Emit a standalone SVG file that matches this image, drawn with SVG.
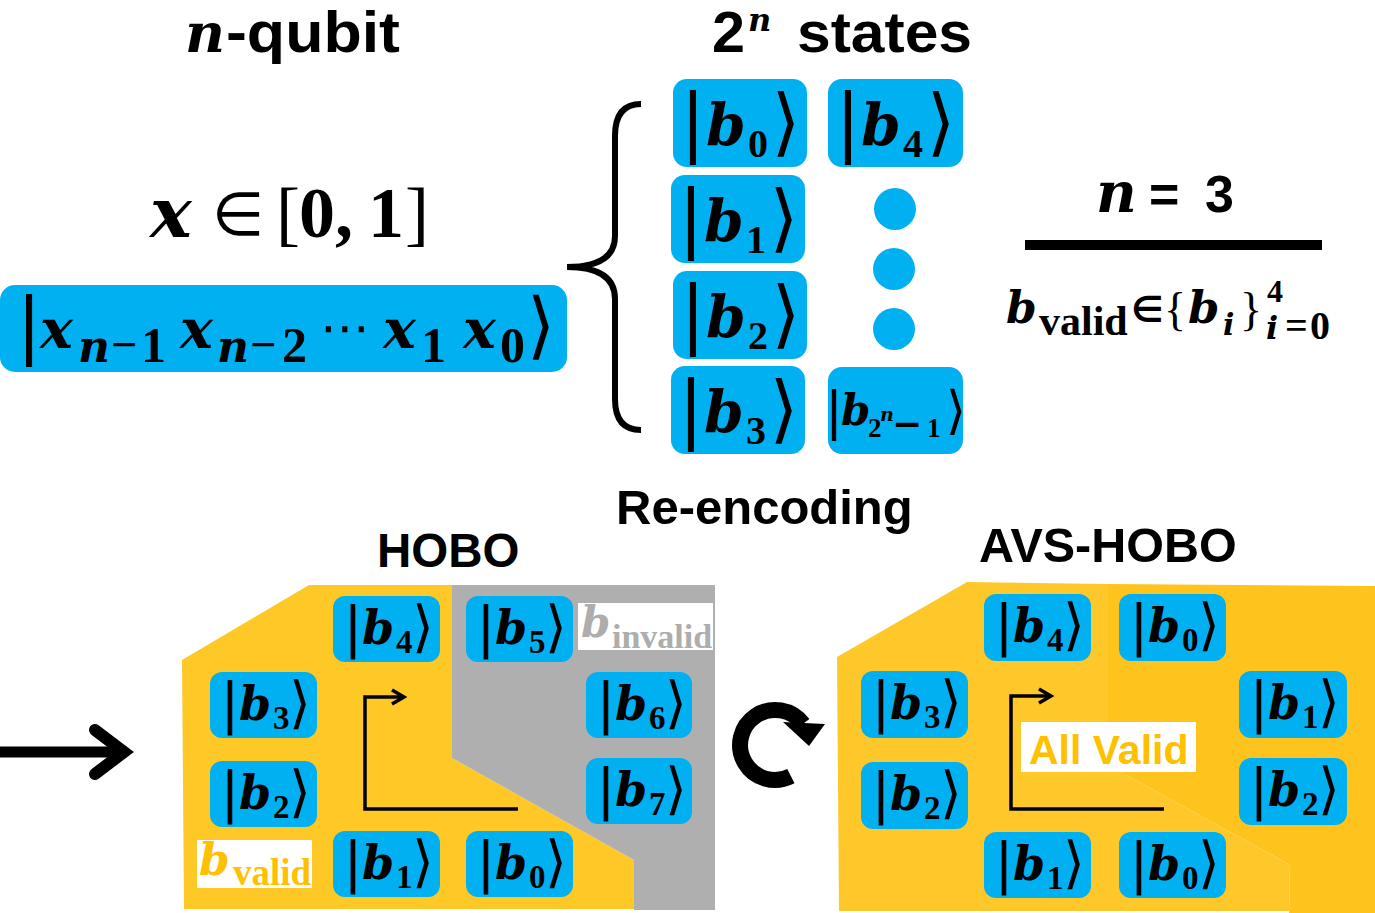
<svg xmlns="http://www.w3.org/2000/svg" width="1375" height="913" viewBox="0 0 1375 913">
  <defs>
    <style>
      .box { fill: #00B0F0; }
      .kb { font-family: "DejaVu Sans", sans-serif; }
      .mi { font-family: "DejaVu Serif", serif; font-weight: bold; font-style: italic; }
      .mn { font-family: "Liberation Serif", serif; font-weight: bold; font-style: normal; }
      .mr { font-family: "Liberation Serif", serif; font-weight: normal; font-style: normal; }
      .hd { font-family: "Liberation Sans", Arial, sans-serif; font-weight: bold; }
      .ln { fill: none; stroke: #000; }
      .ket { fill: #000; }
      .bar56 { font-size: 56px; text-anchor: middle; }
      .b46 { font-size: 46px; }
      .s33 { font-size: 33px; }
      .bar74 { font-size: 74px; text-anchor: middle; }
      .b57 { font-size: 57px; }
      .s40 { font-size: 40px; }
    </style>
    <marker id="chev" markerUnits="userSpaceOnUse" markerWidth="18" markerHeight="18" viewBox="0 0 18 18" refX="15" refY="9" orient="auto">
      <path d="M3,2 L15,9 L3,16" fill="none" stroke="#000" stroke-width="3.5"/>
    </marker>
  </defs>

  <rect width="1375" height="913" fill="#fff"/>

  <!-- headings -->
  <g id="title-qubit">
    <text y="52"><tspan class="mi" x="185" font-size="55">n</tspan><tspan class="hd" x="226" font-size="57" textLength="174" lengthAdjust="spacingAndGlyphs">-qubit</tspan></text>
  </g>
  <g id="title-states">
    <text class="hd"><tspan x="712" y="52" font-size="57" textLength="33" lengthAdjust="spacingAndGlyphs">2</tspan><tspan class="mi" x="748" y="31" font-size="32">n</tspan><tspan x="797" y="52" font-size="57" textLength="175" lengthAdjust="spacingAndGlyphs">states</tspan></text>
  </g>

  <!-- x in [0,1] -->
  <g id="domain">
    <text y="237"><tspan class="mi" x="150" font-size="70">x</tspan><tspan class="kb" x="212" y="235" font-size="60">∈</tspan><tspan class="mr" x="276" y="237" font-size="72">[</tspan><tspan class="mn" x="299" font-size="72">0,</tspan><tspan class="mn" x="368" font-size="72">1</tspan><tspan class="mr" x="405" font-size="72">]</tspan></text>
  </g>

  <!-- register ket -->
  <g id="register">
    <rect class="box" x="0" y="285" width="567" height="87" rx="15"/>
    <text class="ket"><tspan class="kb" x="29" y="350" font-size="73" text-anchor="middle">|</tspan><tspan class="mi" x="40" y="348" font-size="55">x</tspan><tspan class="mi" x="78" y="362" font-size="44">n</tspan><tspan class="mn" x="111" y="360" font-size="46">−</tspan><tspan class="mn" x="141" y="362" font-size="50">1</tspan><tspan class="mi" x="180" y="348" font-size="55">x</tspan><tspan class="mi" x="217" y="362" font-size="44">n</tspan><tspan class="mn" x="250" y="360" font-size="46">−</tspan><tspan class="mn" x="282" y="362" font-size="50">2</tspan><tspan class="kb" x="320" y="345" font-size="50">⋯</tspan><tspan class="mi" x="383" y="348" font-size="55">x</tspan><tspan class="mn" x="421" y="362" font-size="50">1</tspan><tspan class="mi" x="463" y="348" font-size="55">x</tspan><tspan class="mn" x="500" y="362" font-size="50">0</tspan><tspan class="kb" x="541" y="350" font-size="73" text-anchor="middle">⟩</tspan></text>
  </g>

  <!-- basis states column -->
  <g id="state-b0">
    <rect class="box" x="673" y="79" width="134" height="88" rx="14"/>
    <text class="ket"><tspan class="kb bar74" x="693" y="147">|</tspan><tspan class="mi b57" x="706" y="145">b</tspan><tspan class="mn s40" x="748" y="157">0</tspan><tspan class="kb bar74" x="786" y="147">⟩</tspan></text>
  </g>
  <g id="state-b1">
    <rect class="box" x="671" y="175" width="134" height="88" rx="14"/>
    <text class="ket"><tspan class="kb bar74" x="691" y="243">|</tspan><tspan class="mi b57" x="704" y="241">b</tspan><tspan class="mn s40" x="746" y="253">1</tspan><tspan class="kb bar74" x="784" y="243">⟩</tspan></text>
  </g>
  <g id="state-b2">
    <rect class="box" x="673" y="271" width="134" height="88" rx="14"/>
    <text class="ket"><tspan class="kb bar74" x="693" y="339">|</tspan><tspan class="mi b57" x="706" y="337">b</tspan><tspan class="mn s40" x="748" y="349">2</tspan><tspan class="kb bar74" x="786" y="339">⟩</tspan></text>
  </g>
  <g id="state-b3">
    <rect class="box" x="671" y="366" width="134" height="88" rx="14"/>
    <text class="ket"><tspan class="kb bar74" x="691" y="434">|</tspan><tspan class="mi b57" x="704" y="432">b</tspan><tspan class="mn s40" x="746" y="444">3</tspan><tspan class="kb bar74" x="784" y="434">⟩</tspan></text>
  </g>
  <g id="state-b4">
    <rect class="box" x="828" y="79" width="135" height="88" rx="14"/>
    <text class="ket"><tspan class="kb bar74" x="848" y="147">|</tspan><tspan class="mi b57" x="861" y="145">b</tspan><tspan class="mn s40" x="903" y="157">4</tspan><tspan class="kb bar74" x="941" y="147">⟩</tspan></text>
  </g>
  <g id="state-dots">
    <circle class="box" cx="895" cy="209" r="21"/>
    <circle class="box" cx="894" cy="269" r="21"/>
    <circle class="box" cx="894" cy="329" r="21"/>
  </g>
  <g id="state-last">
    <rect class="box" x="828" y="367" width="135" height="87" rx="14"/>
    <text class="ket"><tspan class="kb" x="834" y="428" font-size="52" text-anchor="middle">|</tspan><tspan class="mi" x="841" y="425" font-size="42">b</tspan><tspan class="mn" x="868" y="437" font-size="27">2</tspan><tspan class="mi" x="880" y="421" font-size="19">n</tspan><tspan class="kb" x="892" y="436" font-size="36" font-weight="bold">−</tspan><tspan class="mn" x="927" y="437" font-size="27">1</tspan><tspan class="kb" x="956" y="428" font-size="52" text-anchor="middle">⟩</tspan></text>
  </g>

  <!-- n = 3 summary -->
  <g id="summary">
    <text y="212"><tspan class="mi" x="1096" font-size="56">n</tspan><tspan class="hd" x="1149" font-size="52">=</tspan><tspan class="hd" x="1205" font-size="52">3</tspan></text>
    <rect x="1025" y="240" width="297" height="10" fill="#000"/>
    <text><tspan class="mi" x="1006" y="323" font-size="44">b</tspan><tspan class="mn" x="1039" y="335" font-size="42">valid</tspan><tspan class="kb" x="1131" y="322" font-size="36" font-weight="bold">∈</tspan><tspan class="mr" x="1164" y="325" font-size="46">{</tspan><tspan class="mi" x="1188" y="323" font-size="45">b</tspan><tspan class="mi" x="1223" y="335" font-size="30">i</tspan><tspan class="mr" x="1240" y="325" font-size="46">}</tspan><tspan class="mn" x="1267" y="302" font-size="32">4</tspan><tspan class="mi" x="1266" y="339" font-size="32">i</tspan><tspan class="mn" x="1285" y="339" font-size="40">=</tspan><tspan class="mn" x="1310" y="339" font-size="40">0</tspan></text>
  </g>

  <!-- captions -->
  <g id="caption-reencoding"><text class="hd" x="616" y="524" font-size="49">Re-encoding</text></g>
  <g id="caption-hobo"><text class="hd" x="377" y="567" font-size="47.5">HOBO</text></g>
  <g id="caption-avs"><text class="hd" x="979" y="562" font-size="48.5">AVS-HOBO</text></g>

  <!-- HOBO panel -->
  <g id="hobo-panel">
    <polygon points="182,660 309,585 452,585 452,758 634,860 634,909 184,909" fill="#FEC826"/>
    <polygon points="452,585 715,585 715,910 634,910 634,860 452,758" fill="#AFAFAF"/>
    <rect x="578" y="603" width="135" height="47" fill="#fff"/>
    <text fill="#ADADAD"><tspan class="mi" x="581" y="637" font-size="42">b</tspan><tspan class="mn" x="612" y="648" font-size="34">invalid</tspan></text>
    <rect x="197" y="840" width="115" height="48" fill="#fff"/>
    <text fill="#FFC000"><tspan class="mi" x="199" y="875" font-size="44">b</tspan><tspan class="mn" x="233" y="885" font-size="37">valid</tspan></text>
  </g>
  <g id="hobo-b4">
    <rect class="box" x="333" y="596" width="107" height="66" rx="12"/>
    <text class="ket"><tspan class="kb bar56" x="353" y="646">|</tspan><tspan class="mi b46" x="362" y="644">b</tspan><tspan class="mn s33" x="396" y="653">4</tspan><tspan class="kb bar56" x="423" y="646">⟩</tspan></text>
  </g>
  <g id="hobo-b5">
    <rect class="box" x="466" y="596" width="107" height="66" rx="12"/>
    <text class="ket"><tspan class="kb bar56" x="486" y="646">|</tspan><tspan class="mi b46" x="495" y="644">b</tspan><tspan class="mn s33" x="529" y="653">5</tspan><tspan class="kb bar56" x="556" y="646">⟩</tspan></text>
  </g>
  <g id="hobo-b3">
    <rect class="box" x="210" y="672" width="107" height="66" rx="12"/>
    <text class="ket"><tspan class="kb bar56" x="230" y="722">|</tspan><tspan class="mi b46" x="239" y="720">b</tspan><tspan class="mn s33" x="273" y="729">3</tspan><tspan class="kb bar56" x="300" y="722">⟩</tspan></text>
  </g>
  <g id="hobo-b6">
    <rect class="box" x="586" y="672" width="106" height="66" rx="12"/>
    <text class="ket"><tspan class="kb bar56" x="606" y="722">|</tspan><tspan class="mi b46" x="615" y="720">b</tspan><tspan class="mn s33" x="649" y="729">6</tspan><tspan class="kb bar56" x="676" y="722">⟩</tspan></text>
  </g>
  <g id="hobo-b2">
    <rect class="box" x="210" y="761" width="107" height="66" rx="12"/>
    <text class="ket"><tspan class="kb bar56" x="230" y="811">|</tspan><tspan class="mi b46" x="239" y="809">b</tspan><tspan class="mn s33" x="273" y="818">2</tspan><tspan class="kb bar56" x="300" y="811">⟩</tspan></text>
  </g>
  <g id="hobo-b7">
    <rect class="box" x="586" y="758" width="106" height="66" rx="12"/>
    <text class="ket"><tspan class="kb bar56" x="606" y="808">|</tspan><tspan class="mi b46" x="615" y="806">b</tspan><tspan class="mn s33" x="649" y="815">7</tspan><tspan class="kb bar56" x="676" y="808">⟩</tspan></text>
  </g>
  <g id="hobo-b1">
    <rect class="box" x="333" y="831" width="107" height="66" rx="12"/>
    <text class="ket"><tspan class="kb bar56" x="353" y="881">|</tspan><tspan class="mi b46" x="362" y="879">b</tspan><tspan class="mn s33" x="396" y="888">1</tspan><tspan class="kb bar56" x="423" y="881">⟩</tspan></text>
  </g>
  <g id="hobo-b0">
    <rect class="box" x="466" y="831" width="107" height="66" rx="12"/>
    <text class="ket"><tspan class="kb bar56" x="486" y="881">|</tspan><tspan class="mi b46" x="495" y="879">b</tspan><tspan class="mn s33" x="529" y="888">0</tspan><tspan class="kb bar56" x="556" y="881">⟩</tspan></text>
  </g>

  <!-- AVS-HOBO panel -->
  <g id="avs-panel">
    <polygon points="837,657 967,582 1108,584 1108,765 1290,865 1289,911 839,911" fill="#FEC82B"/>
    <polygon points="1108,584 1375,586 1375,913 1289,913 1290,865 1108,765" fill="#FEC31C"/>
    <rect x="1021" y="722" width="175" height="50" fill="#fff"/>
    <text class="hd" x="1029" y="764" font-size="41" fill="#FFC000">All Valid</text>
  </g>
  <g id="avs-b4">
    <rect class="box" x="984" y="594" width="107" height="67" rx="12"/>
    <text class="ket"><tspan class="kb bar56" x="1004" y="644">|</tspan><tspan class="mi b46" x="1013" y="642">b</tspan><tspan class="mn s33" x="1047" y="651">4</tspan><tspan class="kb bar56" x="1074" y="644">⟩</tspan></text>
  </g>
  <g id="avs-b0-top">
    <rect class="box" x="1119" y="594" width="107" height="67" rx="12"/>
    <text class="ket"><tspan class="kb bar56" x="1139" y="644">|</tspan><tspan class="mi b46" x="1148" y="642">b</tspan><tspan class="mn s33" x="1182" y="651">0</tspan><tspan class="kb bar56" x="1209" y="644">⟩</tspan></text>
  </g>
  <g id="avs-b3">
    <rect class="box" x="861" y="671" width="107" height="67" rx="12"/>
    <text class="ket"><tspan class="kb bar56" x="881" y="721">|</tspan><tspan class="mi b46" x="890" y="719">b</tspan><tspan class="mn s33" x="924" y="728">3</tspan><tspan class="kb bar56" x="951" y="721">⟩</tspan></text>
  </g>
  <g id="avs-b1-right">
    <rect class="box" x="1239" y="671" width="108" height="67" rx="12"/>
    <text class="ket"><tspan class="kb bar56" x="1259" y="721">|</tspan><tspan class="mi b46" x="1268" y="719">b</tspan><tspan class="mn s33" x="1302" y="728">1</tspan><tspan class="kb bar56" x="1329" y="721">⟩</tspan></text>
  </g>
  <g id="avs-b2-left">
    <rect class="box" x="861" y="762" width="107" height="67" rx="12"/>
    <text class="ket"><tspan class="kb bar56" x="881" y="812">|</tspan><tspan class="mi b46" x="890" y="810">b</tspan><tspan class="mn s33" x="924" y="819">2</tspan><tspan class="kb bar56" x="951" y="812">⟩</tspan></text>
  </g>
  <g id="avs-b2-right">
    <rect class="box" x="1239" y="758" width="108" height="67" rx="12"/>
    <text class="ket"><tspan class="kb bar56" x="1259" y="808">|</tspan><tspan class="mi b46" x="1268" y="806">b</tspan><tspan class="mn s33" x="1302" y="815">2</tspan><tspan class="kb bar56" x="1329" y="808">⟩</tspan></text>
  </g>
  <g id="avs-b1-bottom">
    <rect class="box" x="984" y="832" width="107" height="66" rx="12"/>
    <text class="ket"><tspan class="kb bar56" x="1004" y="882">|</tspan><tspan class="mi b46" x="1013" y="880">b</tspan><tspan class="mn s33" x="1047" y="889">1</tspan><tspan class="kb bar56" x="1074" y="882">⟩</tspan></text>
  </g>
  <g id="avs-b0-bottom">
    <rect class="box" x="1119" y="832" width="107" height="66" rx="12"/>
    <text class="ket"><tspan class="kb bar56" x="1139" y="882">|</tspan><tspan class="mi b46" x="1148" y="880">b</tspan><tspan class="mn s33" x="1182" y="889">0</tspan><tspan class="kb bar56" x="1209" y="882">⟩</tspan></text>
  </g>

  <!-- connectors -->
  <g id="connectors">
    <!-- brace grouping the basis states -->
    <path class="ln" stroke-width="6" d="M641,104 Q615,104 615,136 L615,236 Q615,267 567,267 Q615,267 615,299 L615,399 Q615,430 641,430"/>
    <!-- flow arrow into the HOBO panel -->
    <path class="ln" stroke-width="11" d="M0,752 H124"/>
    <polyline class="ln" stroke-width="12" stroke-linecap="round" stroke-linejoin="miter" points="95,730 124,752 95,774"/>
    <!-- traversal order arrows -->
    <path class="ln" stroke-width="3.5" d="M518,809 H365 V697 H404" marker-end="url(#chev)"/>
    <path class="ln" stroke-width="3.5" d="M1164,809 H1011 V696 H1051" marker-end="url(#chev)"/>
    <!-- cyclic re-assignment -->
    <path class="ln" stroke-width="16" d="M790.9,776.2 A35,35 0 1 1 803,723.9"/>
    <polygon points="783,722 825,724 809,746" fill="#000"/>
  </g>
</svg>
